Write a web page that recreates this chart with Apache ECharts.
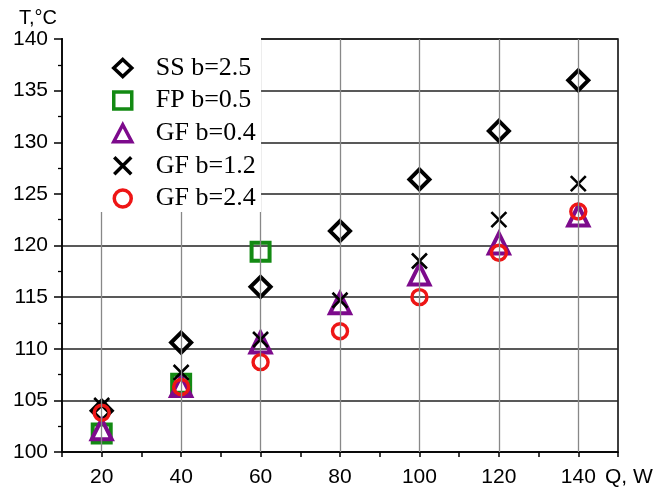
<!DOCTYPE html>
<html>
<head>
<meta charset="utf-8">
<script src="https://cdn.jsdelivr.net/npm/echarts@6/dist/echarts.min.js"></script>
<style>
  html, body { margin: 0; padding: 0; background: #fff; }
  #chart { width: 671px; height: 490px; }
</style>
</head>
<body>
<div id="chart"></div>
<script>
// Q, W
const qValues = [20, 40, 60, 80, 100, 120, 140];
const qFP = [20, 40, 60];

// T, °C
const tSS25 = [104.0, 110.6, 116.0, 121.4, 126.4, 131.1, 136.0];
const tFP05 = [101.8, 106.6, 119.4];
const tGF04 = [102.2, 106.4, 110.6, 114.4, 117.2, 120.2, 122.9];
const tGF12 = [104.5, 107.7, 110.9, 114.7, 118.5, 122.5, 126.0];
const tGF24 = [103.8, 106.3, 108.7, 111.7, 115.0, 119.3, 123.3];

const seriesNames = ['SS b=2.5', 'FP b=0.5', 'GF b=0.4', 'GF b=1.2', 'GF b=2.4'];

const pairs = (xs, ys) => xs.map((x, i) => [x, ys[i]]);

const chart = echarts.init(document.getElementById('chart'));

const hollow = (name, xs, ys, symbol, size, color, bw) => ({
    name: name,
    type: 'scatter',
    data: pairs(xs, ys),
    symbol: symbol,
    symbolSize: size,
    itemStyle: { color: 'transparent', borderColor: color, borderWidth: bw, opacity: 1 },
    emphasis: { disabled: true }
});

const ss = hollow(seriesNames[0], qValues, tSS25, 'diamond', 20, '#000', 4);
ss.markLine = {
    silent: true,
    symbol: 'none',
    label: { show: false },
    lineStyle: { color: '#888', width: 1.3, type: 'solid' },
    data: qValues.map(v => ({ xAxis: v }))
};

chart.setOption({
    animation: false,
    textStyle: { fontFamily: 'Liberation Sans' },
    grid: {
        left: 62, right: 53, top: 39, bottom: 38,
        show: true, borderColor: '#000', borderWidth: 1.5
    },
    // white box behind the legend, hides the grid there
    graphic: [{
        type: 'rect',
        z: 50,
        silent: true,
        shape: { x: 63, y: 37, width: 198, height: 175 },
        style: { fill: '#fff' }
    }],
    legend: {
        z: 60,
        orient: 'vertical',
        left: 64, top: 38,
        padding: [17, 3, 6, 48],
        selectedMode: false,
        itemWidth: 18, itemHeight: 17, itemGap: 6.6,
        itemStyle: { borderWidth: 3.5 },
        textStyle: {
            fontFamily: 'Liberation Serif', fontSize: 26, color: '#000',
            padding: [0, 0, 0, 19]
        },
        data: seriesNames
    },
    xAxis: {
        type: 'value',
        min: 10, max: 150, interval: 10,
        name: 'Q, W',
        nameLocation: 'end',
        nameGap: -13,
        nameTextStyle: { fontSize: 21, color: '#000', align: 'left', verticalAlign: 'top', padding: [15, 0, 0, 0] },
        axisLine: { lineStyle: { color: '#000', width: 1.5 } },
        axisTick: { inside: false, length: 5, lineStyle: { color: '#000', width: 1.5 } },
        axisLabel: {
            fontSize: 21, color: '#000', margin: 15,
            formatter: v => (v % 20 === 0 && v >= 20 && v <= 140 ? String(v) : '')
        },
        splitLine: { show: false }
    },
    yAxis: {
        type: 'value',
        min: 100, max: 140, interval: 5,
        name: 'T,\u00b0C',
        nameLocation: 'end',
        nameGap: 9,
        nameTextStyle: { fontSize: 20, color: '#000', align: 'right', padding: [0, 5, 0, 0] },
        axisLine: { lineStyle: { color: '#000', width: 1.5 } },
        axisTick: { inside: false, length: 8, lineStyle: { color: '#000', width: 1.5 } },
        minorTick: { show: true, splitNumber: 2, length: 4, lineStyle: { color: '#000', width: 1.3 } },
        axisLabel: { fontSize: 21, color: '#000', margin: 14 },
        splitLine: { show: true, lineStyle: { color: '#222', width: 1.5 } }
    },
    series: [
        ss,
        hollow(seriesNames[1], qFP, tFP05, 'rect', 18, '#138a13', 4),
        hollow(seriesNames[2], qValues, tGF04, 'triangle', 20, '#7d0a8c', 4),
        hollow(seriesNames[3], qValues, tGF12, 'path://M0,0L10,10M10,0L0,10', 15, '#000', 2.6),
        hollow(seriesNames[4], qValues, tGF24, 'circle', 15, '#ee1515', 3.4)
    ]
});
</script>
</body>
</html>
